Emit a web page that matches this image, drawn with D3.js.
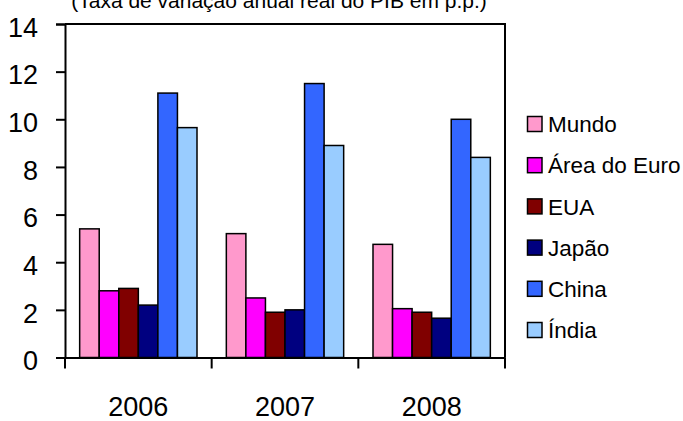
<!DOCTYPE html>
<html>
<head>
<meta charset="utf-8">
<script src="https://cdn.jsdelivr.net/npm/d3@7"></script>
<style>
  body { margin: 0; background: #fff; }
  text { font-family: "Liberation Sans", Arial, sans-serif; fill: #000; }
</style>
</head>
<body>
<div id="chart"></div>
<script>
// data (IMF growth, % a year)
var years = ['2006', '2007', '2008'];
var series = ['Mundo', 'Área do Euro', 'EUA', 'Japão', 'China', 'Índia'];
var mundo = [5.4, 5.2, 4.75];
var areaEuro = [2.8, 2.5, 2.05];
var eua = [2.9, 1.9, 1.9];
var japao = [2.2, 2.0, 1.65];
var china = [11.1, 11.5, 10.0];
var india = [9.65, 8.9, 8.4];
var colors = ['#ff99cc', '#ff00ff', '#800000', '#000080', '#3366ff', '#99ccff'];
var yTicks = [0, 2, 4, 6, 8, 10, 12, 14];

var values = [mundo, areaEuro, eua, japao, china, india];
var data = years.map(function(yr, i) {
  return { year: yr, vals: series.map(function(s, j) { return { key: s, v: values[j][i] }; }) };
});

var W = 683, H = 421;
var plotL = 65, plotR = 505, plotT = 24, plotB = 357.5;

var svg = d3.select("#chart").append("svg")
  .attr("width", W).attr("height", H);

// title (partly cut off at the top)
svg.append("text")
  .attr("x", 279).attr("y", 8)
  .attr("text-anchor", "middle")
  .style("font-size", "21px")
  .text("(Taxa de variação anual real do PIB em p.p.)");

var x0 = d3.scaleBand().domain(years).range([plotL, plotR])
  .paddingInner(0.2).paddingOuter(0.1);
var x1 = d3.scaleBand().domain(series).range([0, x0.bandwidth()]);
var y = d3.scaleLinear().domain([0, 14]).range([plotB, plotT]);

// plot area frame (top and right)
svg.append("path")
  .attr("d", "M" + plotL + "," + plotT + "H" + plotR + "V" + plotB)
  .attr("fill", "none").attr("stroke", "#000").attr("stroke-width", 2);

// bars
var groups = svg.selectAll(".grp").data(data).enter().append("g")
  .attr("transform", function(d) { return "translate(" + x0(d.year) + ",0)"; });
groups.selectAll("rect").data(function(d) { return d.vals; }).enter().append("rect")
  .attr("x", function(d) { return x1(d.key); })
  .attr("y", function(d) { return y(d.v); })
  .attr("width", x1.bandwidth())
  .attr("height", function(d) { return plotB - y(d.v); })
  .attr("fill", function(d, i) { return colors[i]; })
  .attr("stroke", "#000").attr("stroke-width", 1.5);

// y axis
var yAxis = svg.append("g")
  .attr("transform", "translate(" + plotL + ",0)")
  .call(d3.axisLeft(y).tickValues(yTicks).tickSize(9).tickPadding(18));
yAxis.selectAll("text").style("font-size", "27px").attr("dy", "0.45em");

// x axis with ticks at category boundaries
var xAxis = svg.append("g")
  .attr("transform", "translate(0," + plotB + ")")
  .call(d3.axisBottom(x0).tickSize(0).tickPadding(39));
xAxis.selectAll("text").style("font-size", "27px");
var bounds = years.map(function(yr) { return x0(yr) - x0.step() * x0.paddingInner() / 2; });
bounds[0] = plotL;
bounds.push(plotR);
xAxis.selectAll(".bnd").data(bounds).enter().append("line")
  .attr("x1", function(d) { return d; }).attr("x2", function(d) { return d; })
  .attr("y1", 0).attr("y2", 11)
  .attr("stroke", "#000").attr("stroke-width", 2);

svg.selectAll(".domain").attr("stroke", "#000").attr("stroke-width", 2);
svg.selectAll(".tick line").attr("stroke", "#000").attr("stroke-width", 2);

// legend
var legend = svg.selectAll(".leg").data(series).enter().append("g")
  .attr("transform", function(d, i) { return "translate(527.5," + (124 + i * 41.2) + ")"; });
legend.append("rect")
  .attr("x", 0).attr("y", -7.5).attr("width", 14.5).attr("height", 15)
  .attr("fill", function(d, i) { return colors[i]; })
  .attr("stroke", "#000").attr("stroke-width", 1.5);
legend.append("text")
  .attr("x", 20.5).attr("y", 0).attr("dy", "0.36em")
  .style("font-size", "22.5px")
  .text(function(d) { return d; });
</script>
</body>
</html>
